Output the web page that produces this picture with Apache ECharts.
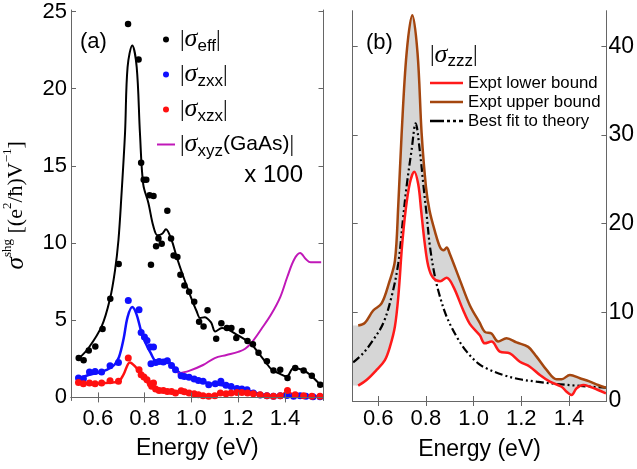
<!DOCTYPE html>
<html>
<head>
<meta charset="utf-8">
<script src="https://cdn.jsdelivr.net/npm/echarts@6/dist/echarts.min.js"></script>
<style>
html, body { margin: 0; padding: 0; background: #fff; }
#main { width: 637px; height: 469px; }
</style>
</head>
<body>
<div id="main"></div>
<script>
// ---------- 刻度 ----------
const energyTicks = [0.6, 0.8, 1.0, 1.2, 1.4];
const sigmaTicksA = [0, 5, 10, 15, 20, 25];
const sigmaTicksB = [0, 10, 20, 30, 40];

// ---------- 面板 (a) 数据: [能量 eV, 值] ----------
const effDots = [[0.518,2.55],[0.539,2.40],[0.561,3.04],[0.589,3.30],[0.620,4.43],[0.653,6.39],[0.689,8.64],
  [0.729,24.2],[0.774,21.9],[0.785,15.2],[0.796,14.1],[0.807,14.1],[0.821,13.1],[0.827,8.6],[0.838,13.05],
  [0.849,9.8],[0.859,10.3],[0.873,9.95],[0.897,12.1],[0.913,10.3],[0.924,9.2],[0.940,9.1],[0.953,7.95],
  [0.970,7.25],[0.990,6.85],[1.012,6.2],[1.033,4.9],[1.052,4.6],[1.069,5.65],[1.106,3.8],[1.128,4.8],
  [1.152,4.5],[1.171,4.5],[1.192,3.85],[1.216,4.3],[1.240,3.65],[1.263,3.45],[1.287,2.9],[1.323,2.35],
  [1.351,1.75],[1.380,1.8],[1.411,1.25],[1.444,1.9],[1.480,1.75],[1.515,1.4],[1.551,0.82]];
const zxxDots = [[0.517,1.25],[0.538,1.21],[0.564,1.64],[0.588,1.68],[0.616,1.64],[0.652,2.05],[0.688,2.27],
  [0.730,6.28],[0.776,5.68],[0.785,4.21],[0.799,3.91],[0.810,3.69],[0.824,3.26],[0.838,3.26],[0.827,2.18],
  [0.847,2.27],[0.862,2.33],[0.880,2.29],[0.897,2.38],[0.915,2.07],[0.932,1.79],[0.956,1.41],[0.970,1.36],
  [0.990,1.30],[1.012,1.2],[1.030,1.1],[1.050,1.04],[1.074,0.82],[1.102,0.89],[1.126,1.04],[1.148,0.78],
  [1.170,0.71],[1.195,0.58],[1.216,0.54],[1.238,0.5],[1.265,0.28],[1.294,0.16],[1.323,0.11],[1.351,0.07],
  [1.380,0.11],[1.409,0.13],[1.437,0.07],[1.465,0.11],[1.490,0.07],[1.520,0.05],[1.550,0.05]];
const xzxDots = [[0.517,0.97],[0.538,0.89],[0.564,0.93],[0.588,0.89],[0.616,0.93],[0.652,1.08],[0.688,1.04],
  [0.730,2.55],[0.776,1.79],[0.785,1.47],[0.797,1.32],[0.810,1.15],[0.824,0.89],[0.838,0.93],[0.830,0.73],
  [0.847,0.54],[0.862,0.45],[0.880,0.45],[0.897,0.39],[0.915,0.39],[0.932,0.28],[0.956,0.43],[0.970,0.37],
  [0.990,0.28],[1.012,0.24],[1.030,0.17],[1.050,0.11],[1.074,0.07],[1.100,0.11],[1.124,0.28],[1.148,0.24],
  [1.170,0.28],[1.195,0.32],[1.216,0.32],[1.240,0.28],[1.265,0.24],[1.294,0.17],[1.323,0.11],[1.351,0.07],
  [1.380,0.11],[1.411,0.45],[1.444,0.17],[1.480,0.11],[1.515,0.07],[1.550,0.07]];
const effFit = [[0.517,2.5],[0.56,3.2],[0.616,4.6],[0.652,6.4],[0.673,8.2],[0.688,10.2],[0.70,12.9],[0.716,17.1],
  [0.727,21.4],[0.747,22.8],[0.766,21.4],[0.780,17.1],[0.794,13.8],[0.816,12.6],[0.837,11.1],[0.855,10.5],
  [0.875,10.6],[0.891,10.9],[0.915,10.2],[0.937,9.1],[0.965,7.85],[0.994,6.65],[1.022,5.6],[1.038,5.14],
  [1.056,5.2],[1.084,4.86],[1.102,4.27],[1.131,4.49],[1.159,4.38],[1.195,4.06],[1.23,3.74],[1.259,3.41],
  [1.287,2.87],[1.315,2.33],[1.344,1.79],[1.372,1.58],[1.408,1.36],[1.437,1.9],[1.473,1.79],[1.508,1.47],
  [1.544,0.93],[1.562,0.71]];
const zxxFit = [[0.515,1.2],[0.56,1.45],[0.6,1.6],[0.64,1.8],[0.67,2.1],[0.69,2.6],[0.71,3.8],[0.727,5.2],
  [0.747,5.85],[0.765,5.4],[0.785,4.3],[0.805,3.5],[0.825,2.9],[0.85,2.35],[0.87,2.35],[0.893,2.45],[0.915,2.1],
  [0.95,1.6],[1.0,1.25],[1.05,1.0],[1.1,0.85],[1.15,0.75],[1.2,0.55],[1.25,0.4],[1.3,0.2],[1.35,0.1],[1.4,0.1],
  [1.45,0.1],[1.5,0.05],[1.555,0.05]];
const xzxFit = [[0.515,0.9],[0.56,0.88],[0.6,0.9],[0.65,0.95],[0.69,1.05],[0.71,1.5],[0.737,2.27],[0.76,2.0],
  [0.78,1.6],[0.80,1.15],[0.83,0.75],[0.87,0.5],[0.92,0.4],[0.96,0.35],[1.0,0.25],[1.05,0.12],[1.1,0.15],
  [1.15,0.25],[1.2,0.3],[1.25,0.25],[1.3,0.15],[1.36,0.08],[1.385,0.15],[1.41,0.35],[1.44,0.15],[1.5,0.08],
  [1.555,0.05]];
const gaasLine = [[0.94,1.55],[0.99,1.72],[1.05,2.1],[1.10,2.55],[1.15,2.75],[1.20,2.95],[1.23,3.15],[1.26,3.6],
  [1.30,4.45],[1.34,5.35],[1.38,6.5],[1.41,7.8],[1.44,8.95],[1.465,9.35],[1.49,8.95],[1.51,8.75],[1.555,8.75]];

// ---------- 面板 (b) 数据 ----------
// 第一个点是阴影带在左边框处的起点
const upperBound = [[0.493,8.5],[0.516,8.5],[0.544,8.8],[0.579,10.2],[0.614,11.0],[0.645,13.3],[0.670,15.8],
  [0.684,22.0],[0.698,30.0],[0.719,39.2],[0.743,43.5],[0.765,39.2],[0.782,30.2],[0.80,24.2],[0.815,21.5],
  [0.838,19.1],[0.86,17.3],[0.875,17.0],[0.887,17.3],[0.90,16.6],[0.943,13.6],[0.984,10.8],[1.026,8.8],
  [1.047,7.8],[1.075,7.6],[1.103,6.7],[1.138,7.07],[1.18,6.6],[1.229,6.1],[1.264,5.0],[1.306,3.5],[1.348,2.45],
  [1.369,2.45],[1.404,2.93],[1.446,2.56],[1.488,2.18],[1.522,1.8],[1.555,1.5]];
const lowerBound = [[0.493,1.75],[0.516,1.73],[0.551,2.37],[0.593,3.5],[0.628,4.62],[0.649,6.1],[0.670,8.4],
  [0.685,12.0],[0.70,17.5],[0.715,21.5],[0.733,24.6],[0.751,25.85],[0.768,24.4],[0.78,21.5],[0.795,17.8],
  [0.81,15.2],[0.83,13.9],[0.86,13.5],[0.887,13.9],[0.915,12.9],[0.956,10.26],[0.984,8.7],[1.026,7.4],
  [1.047,6.5],[1.075,6.7],[1.11,5.56],[1.152,5.38],[1.194,4.43],[1.236,3.87],[1.278,2.93],[1.32,2.18],
  [1.369,1.61],[1.39,1.05],[1.411,0.68],[1.432,1.43],[1.46,1.8],[1.488,1.61],[1.522,1.24],[1.555,0.87]];
const theoryFit = [[0.495,4.36],[0.537,5.38],[0.579,6.88],[0.621,8.76],[0.656,11.76],[0.684,15.5],[0.705,20.8],
  [0.719,24.2],[0.74,28.3],[0.757,31.3],[0.774,28.3],[0.79,24.2],[0.803,21.0],[0.817,17.4],[0.838,14.0],
  [0.859,11.76],[0.887,9.5],[0.929,7.25],[0.971,5.56],[1.019,4.25],[1.054,3.68],[1.124,2.93],[1.194,2.45],
  [1.264,2.18],[1.348,1.92],[1.432,1.73],[1.555,1.5]];

const FONT = 'Liberation Sans';
const SERIF = 'Liberation Serif';
const AXIS_COLOR = '#666';

// 图例用的线形图标
const ICON_LINE_A = 'path://M0,0H18V2H0Z';
const ICON_LINE_B = 'path://M0,0H33V2.5H0Z';
const ICON_DASHDOT = 'path://M0,0H14V2.5H0Z M17,0H20V2.5H17Z M23,0H26V2.5H23Z M29,0H33V2.5H29Z';

const chart = echarts.init(document.getElementById('main'));

function xAxisOf(grid, min, max, main) {
  return {
    type: 'value', gridIndex: grid, min: min, max: max,
    position: main ? 'bottom' : 'top',
    axisLine: { show: true, lineStyle: { color: AXIS_COLOR, width: 1 } },
    axisTick: { show: true, inside: true, length: 5, lineStyle: { color: AXIS_COLOR }, customValues: energyTicks },
    axisLabel: { show: main, margin: 7, color: '#000', fontFamily: FONT, fontSize: 22,
      customValues: energyTicks, formatter: v => v.toFixed(1) },
    splitLine: { show: false },
    name: main ? 'Energy (eV)' : '', nameLocation: 'middle', nameGap: 37,
    nameTextStyle: { fontFamily: FONT, fontSize: 23, color: '#000' },
    z: 10
  };
}

function yAxisOf(grid, min, max, ticks, pos, labels) {
  return {
    type: 'value', gridIndex: grid, min: min, max: max, position: pos,
    axisLine: { show: true, lineStyle: { color: AXIS_COLOR, width: 1 } },
    axisTick: { show: true, inside: true, length: 5, lineStyle: { color: AXIS_COLOR }, customValues: ticks },
    axisLabel: { show: labels, margin: pos === 'left' ? 4 : 2, color: '#000', fontFamily: FONT,
      fontSize: pos === 'left' ? 22 : 23, customValues: ticks },
    splitLine: { show: false },
    z: 10
  };
}

const yA = yAxisOf(0, -0.2, 25.1, sigmaTicksA, 'left', true);
yA.name = '{s|σ}{sup|shg}{m| [(e}{sup|2}{m|/ħ)V}{sup|−1}{m|]}';
yA.nameLocation = 'middle';
yA.nameGap = 40;
yA.nameTextStyle = {
  color: '#000', fontFamily: SERIF, fontSize: 22,
  rich: {
    s: { fontFamily: SERIF, fontStyle: 'italic', fontSize: 25, lineHeight: 30 },
    m: { fontFamily: SERIF, fontSize: 22, lineHeight: 30 },
    sup: { fontFamily: SERIF, fontSize: 13, lineHeight: 14, verticalAlign: 'top' }
  }
};

// 图例文字（带下标）
const legendRich = {
  bar: { fontFamily: SERIF, fontSize: 23, lineHeight: 30, color: '#000' },
  sig: { fontFamily: SERIF, fontStyle: 'italic', fontSize: 26, lineHeight: 30, color: '#000' },
  sub: { fontFamily: FONT, fontSize: 17, lineHeight: 16, verticalAlign: 'bottom', color: '#000' },
  txt: { fontFamily: FONT, fontSize: 21, lineHeight: 30, color: '#000' }
};
const legendText = {
  eff: '{bar||}{sig|σ}{sub|eff}{bar||}',
  zxx: '{bar||}{sig|σ}{sub|zxx}{bar||}',
  xzx: '{bar||}{sig|σ}{sub|xzx}{bar||}',
  GaAs: '{bar||}{sig|σ}{sub|xyz}{txt|(GaAs)}{bar||}'
};

function lineSeries(name, data, color, width, xi, yi, extra) {
  return Object.assign({
    name: name, type: 'line', data: data, xAxisIndex: xi, yAxisIndex: yi,
    smooth: 0.35, symbol: 'none', lineStyle: { color: color, width: width }, itemStyle: { color: color },
    silent: true, animation: false
  }, extra || {});
}

function dotSeries(name, data, color, size) {
  return {
    name: name, type: 'scatter', data: data, xAxisIndex: 0, yAxisIndex: 0,
    symbol: 'circle', symbolSize: size, itemStyle: { color: color, opacity: 1 }, animation: false, z: 3
  };
}

const option = {
  backgroundColor: '#fff',
  animation: false,
  grid: [
    { left: 70.5, right: 313.5, top: 10, bottom: 68.5 },
    { left: 352.7, right: 30.3, top: 10.7, bottom: 68 }
  ],
  xAxis: [
    xAxisOf(0, 0.485, 1.565, true), xAxisOf(0, 0.485, 1.565, false),
    xAxisOf(1, 0.493, 1.557, true), xAxisOf(1, 0.493, 1.557, false)
  ],
  yAxis: [
    yA, yAxisOf(0, -0.2, 25.1, sigmaTicksA, 'right', false),
    yAxisOf(1, 0, 44, sigmaTicksB, 'right', true), yAxisOf(1, 0, 44, sigmaTicksB, 'left', false)
  ],
  legend: [
    {
      data: [{ name: 'eff', icon: 'circle' }, { name: 'zxx', icon: 'circle' }, { name: 'xzx', icon: 'circle' },
        { name: 'GaAs', icon: ICON_LINE_A }],
      orient: 'vertical', left: 157, top: 26.5, padding: 0, itemWidth: 18, itemHeight: 6, itemGap: 7,
      selectedMode: false, formatter: n => legendText[n],
      textStyle: { fontFamily: FONT, fontSize: 21, color: '#000', rich: legendRich }
    },
    {
      data: [{ name: 'Expt lower bound', icon: ICON_LINE_B }, { name: 'Expt upper bound', icon: ICON_LINE_B },
        { name: 'Best fit to theory', icon: ICON_DASHDOT }],
      orient: 'vertical', left: 430, top: 73.5, padding: 0, itemWidth: 33, itemHeight: 10, itemGap: 0,
      selectedMode: false,
      textStyle: { fontFamily: FONT, fontSize: 16.8, color: '#000', lineHeight: 19 }
    }
  ],
  graphic: [
    { type: 'text', left: 80, top: 31, style: { text: '(a)', font: '22px "Liberation Sans"', fill: '#000' } },
    { type: 'text', left: 366, top: 32, style: { text: '(b)', font: '22px "Liberation Sans"', fill: '#000' } },
    { type: 'text', right: 334, top: 163, style: { text: 'x 100', font: '24px "Liberation Sans"', fill: '#000' } },
    {
      type: 'text', left: 430, top: 42,
      style: { text: '{bar||}{sig|σ}{sub|zzz}{bar||}', rich: legendRich }
    }
  ],
  series: [
    // 面板 (a)
    lineSeries('effFit', effFit, '#000', 2, 0, 0),
    lineSeries('zxxFit', zxxFit, '#1010ff', 2.5, 0, 0),
    lineSeries('xzxFit', xzxFit, '#ff1010', 2.5, 0, 0),
    lineSeries('GaAs', gaasLine, '#c018b8', 2, 0, 0),
    dotSeries('eff', effDots, '#000', 6.5),
    dotSeries('zxx', zxxDots, '#1010ff', 7),
    dotSeries('xzx', xzxDots, '#ff1010', 7),
    // 面板 (b): 灰色带 = 上界面积减去下界面积（白色遮盖）
    lineSeries('bandUpper', upperBound, '#d6d6d6', 0, 2, 2,
      { lineStyle: { width: 0, opacity: 0 }, areaStyle: { color: '#d6d6d6', opacity: 1 } }),
    lineSeries('bandLower', lowerBound, '#fff', 0, 2, 2,
      { lineStyle: { width: 0, opacity: 0 }, areaStyle: { color: '#fff', opacity: 1 } }),
    lineSeries('Best fit to theory', theoryFit, '#000', 2.2, 2, 2,
      { lineStyle: { color: '#000', width: 2.2, type: [8, 3, 2, 3, 2, 3] } }),
    lineSeries('Expt lower bound', lowerBound.slice(1), '#ff1a1a', 2.5, 2, 2),
    lineSeries('Expt upper bound', upperBound.slice(1), '#a4460f', 2.5, 2, 2)
  ]
};

chart.setOption(option);
</script>
</body>
</html>
